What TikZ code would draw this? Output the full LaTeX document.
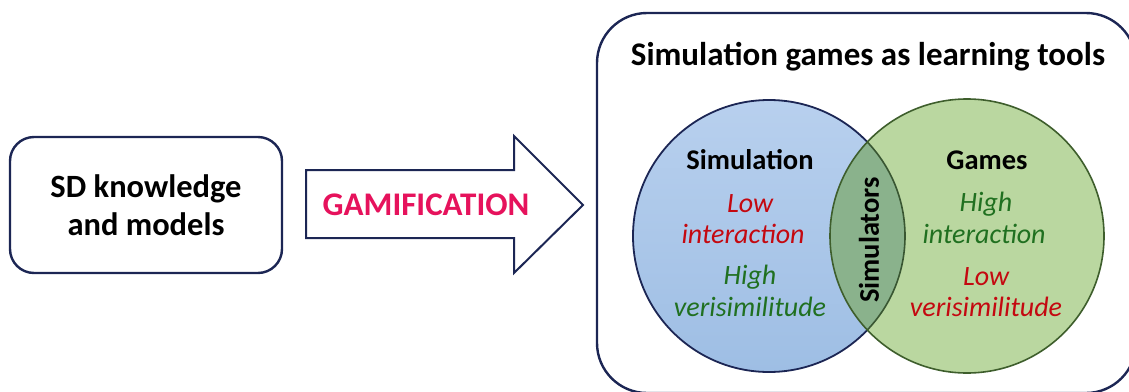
\documentclass[tikz,border=0pt]{standalone}
\usepackage{fontspec}
\setmainfont{Carlito}
\usetikzlibrary{positioning}

\definecolor{navy}{RGB}{28,38,84}
\definecolor{pinkred}{RGB}{230,18,92}
\definecolor{lowred}{RGB}{196,8,16}
\definecolor{highgreen}{RGB}{32,112,32}
\definecolor{bluetop}{RGB}{184,208,238}
\definecolor{bluebot}{RGB}{158,190,228}
\definecolor{greenfill}{RGB}{186,215,160}
\definecolor{lensfill}{RGB}{138,178,140}
\definecolor{greenline}{RGB}{62,94,44}

\tikzset{
  boxline/.style={draw=navy, line width=2.4pt},
  boldtext/.style={font=\bfseries\fontsize{#1}{#1}\selectfont, text=black, inner sep=0pt},
  lowtext/.style={font=\itshape\fontsize{28}{28}\selectfont, text=lowred, inner sep=0pt},
  hightext/.style={font=\itshape\fontsize{28}{28}\selectfont, text=highgreen, inner sep=0pt},
}

\begin{document}
\begin{tikzpicture}[x=1pt, y=-1pt]
\useasboundingbox (0,0) rectangle (1129,391);

% left box
\draw[boxline, rounded corners=24pt, fill=white] (10,137) rectangle (282,273);
\node[boldtext=32.5, align=center] (sd) at (146,205) {SD knowledge\\[5pt]and models};

% gamification arrow
\draw[boxline, line width=2pt, line join=miter, fill=white]
  (306,170) -- (514,170) -- (514,136) -- (583,205) -- (514,273) -- (514,238) -- (306,238) -- cycle;
\node[font=\bfseries\fontsize{33}{33}\selectfont, text=pinkred, inner sep=0pt] (gamif) at (426,205) {GAMIFICATION};

% frame on the right
\draw[boxline, rounded corners=50pt] (597,13) rectangle (1136,393);
\node[boldtext=33] (title) at (868,57) {Simulation games as learning tools};

% the two sets
\shade[top color=bluetop, bottom color=bluebot] (769,236) circle[radius=136];
\draw[navy, line width=1.8pt] (769,236) circle[radius=136];
\fill[greenfill] (967,236) circle[radius=137];
\begin{scope}
  \clip (769,236) circle[radius=136];
  \fill[lensfill] (967,236) circle[radius=137];
\end{scope}
\begin{scope}
  \clip (967,236) circle[radius=137];
  \draw[greenline!85!navy, line width=1.6pt] (769,236) circle[radius=136];
\end{scope}
\draw[greenline, line width=1.6pt] (967,236) circle[radius=137];

% labels of the simulation set
\node[boldtext=28.5] (sim) at (750,160) {Simulation};
\node[lowtext] (simlow) at (750,204) {Low};
\node[lowtext] (simint) at (743,234) {interaction};
\node[hightext] (simhigh) at (750,277) {High};
\node[hightext] (simver) at (750,307) {verisimilitude};

% labels of the games set
\node[boldtext=28.5] (games) at (987,160) {Games};
\node[hightext] (gamhigh) at (986,204) {High};
\node[hightext] (gamint) at (984,234) {interaction};
\node[lowtext] (gamlow) at (986,277) {Low};
\node[lowtext] (gamver) at (986,307) {verisimilitude};

% the overlap
\node[boldtext=28.5, rotate=90] (simulators) at (869,240) {Simulators};
\end{tikzpicture}
\end{document}
